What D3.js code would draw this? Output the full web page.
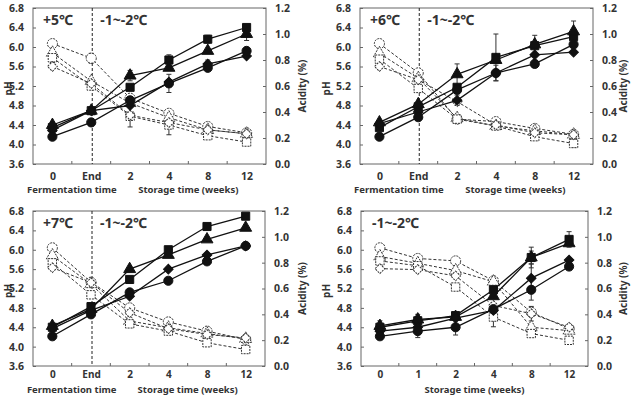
<!DOCTYPE html>
<html>
<head>
<meta charset="utf-8">
<script src="https://cdn.jsdelivr.net/npm/d3@7"></script>
<style>
  body { margin: 0; background: #fff; }
  text { font-family: "Noto Sans", "DejaVu Sans", "Noto Sans CJK KR", sans-serif; font-weight: bold; fill: #333; }
</style>
</head>
<body>
<div id="canvas"></div>
<script>
// categories
const catsFerm = ["0", "End", "2", "4", "8", "12"]
const catsStore = ["0", "1", "2", "4", "8", "12"]
const phTicks = [3.6, 4.0, 4.4, 4.8, 5.2, 5.6, 6.0, 6.4, 6.8]
const acidTicks = [0, 0.2, 0.4, 0.6, 0.8, 1.0, 1.2]

// series order: square, triangle, diamond, circle
// acidity (%) - filled symbols, solid lines
const acid5 = [
  [0.28, 0.41, 0.59, 0.80, 0.96, 1.05],
  [0.30, 0.41, 0.68, 0.74, 0.87, 1.00],
  [0.26, 0.41, 0.45, 0.63, 0.77, 0.83],
  [0.21, 0.32, 0.49, 0.62, 0.74, 0.87]
]
const acid6 = [
  [0.28, 0.44, 0.59, 0.82, 0.91, 0.98],
  [0.32, 0.46, 0.69, 0.80, 0.92, 1.02],
  [0.31, 0.40, 0.49, 0.70, 0.84, 0.86],
  [0.21, 0.36, 0.57, 0.70, 0.77, 0.92]
]
const acid7 = [
  [0.30, 0.46, 0.67, 0.90, 1.08, 1.16],
  [0.31, 0.44, 0.75, 0.86, 0.98, 1.07],
  [0.29, 0.43, 0.54, 0.75, 0.86, 0.93],
  [0.23, 0.40, 0.57, 0.66, 0.81, 0.93]
]
const acidCold = [
  [0.30, 0.35, 0.39, 0.59, 0.84, 0.98],
  [0.31, 0.36, 0.38, 0.54, 0.84, 0.95],
  [0.27, 0.30, 0.37, 0.43, 0.68, 0.82],
  [0.23, 0.27, 0.30, 0.44, 0.59, 0.77]
]

// pH - open symbols, dashed lines (circle, triangle, square, diamond)
const ph5 = [
  [6.07, 5.77, 4.95, 4.64, 4.37, 4.24],
  [5.88, 5.30, 4.85, 4.55, 4.30, 4.22],
  [5.78, 5.20, 4.58, 4.40, 4.18, 4.05],
  [5.60, 5.25, 4.60, 4.45, 4.30, 4.22]
]
const ph6 = [
  [6.07, 5.47, 4.52, 4.47, 4.33, 4.21],
  [5.87, 5.36, 4.54, 4.38, 4.28, 4.20],
  [5.75, 5.15, 4.52, 4.38, 4.16, 4.02],
  [5.60, 5.33, 4.88, 4.40, 4.24, 4.20]
]
const ph7 = [
  [6.04, 5.33, 4.80, 4.51, 4.32, 4.15],
  [5.88, 5.29, 4.53, 4.39, 4.27, 4.16],
  [5.73, 5.07, 4.47, 4.32, 4.08, 3.94],
  [5.63, 5.32, 4.70, 4.37, 4.25, 4.18]
]
const phCold = [
  [6.04, 5.82, 5.77, 5.36, 4.71, 4.37],
  [5.86, 5.72, 5.57, 5.34, 4.40, 4.33],
  [5.77, 5.67, 5.23, 4.61, 4.27, 4.13],
  [5.61, 5.59, 5.46, 4.85, 4.68, 4.40]
]

// error bars: [panel, "acid" | "ph", series, point, error]
const errBars = [
  [0, "acid", 0, 0, 0.04], [0, "acid", 0, 3, 0.04], [0, "acid", 0, 4, 0.03], [0, "acid", 1, 2, 0.04],
  [0, "acid", 1, 5, 0.05], [0, "acid", 3, 3, 0.07], [0, "acid", 2, 4, 0.03],
  [0, "ph", 2, 0, 0.1], [0, "ph", 2, 2, 0.22], [0, "ph", 2, 3, 0.2], [0, "ph", 0, 1, 0.1],
  [1, "acid", 0, 3, 0.18], [1, "acid", 1, 2, 0.08], [1, "acid", 1, 5, 0.08], [1, "acid", 0, 4, 0.08],
  [1, "acid", 2, 2, 0.04], [1, "acid", 2, 3, 0.06], [1, "ph", 2, 5, 0.08],
  [2, "ph", 2, 5, 0.04],
  [3, "acid", 0, 4, 0.08], [3, "acid", 2, 4, 0.11], [3, "acid", 3, 4, 0.08], [3, "acid", 0, 5, 0.06],
  [3, "acid", 1, 4, 0.05], [3, "acid", 3, 3, 0.04], [3, "acid", 0, 0, 0.05], [3, "acid", 3, 1, 0.05],
  [3, "acid", 3, 2, 0.06], [3, "acid", 0, 1, 0.05],
  [3, "ph", 2, 3, 0.2], [3, "ph", 3, 4, 0.15], [3, "ph", 1, 2, 0.1], [3, "ph", 2, 5, 0.05]
]

const tempLabels = [["+5℃", "-1~-2℃"], ["+6℃", "-1~-2℃"], ["+7℃", "-1~-2℃"], ["-1~-2℃"]]

const panels = [
  { cats: catsFerm, acid: acid5, ph: ph5, box: [33, 266, 8, 164], phX: 8, acX: 302, titleDy: 29, catPad: 9, catSize: "10.5px" },
  { cats: catsFerm, acid: acid6, ph: ph6, box: [360, 593, 8, 164], phX: 326, acX: 623, titleDy: 29, catPad: 9, catSize: "10.5px" },
  { cats: catsFerm, acid: acid7, ph: ph7, box: [33, 265, 211, 366], phX: 8, acX: 302, titleDy: 27, catPad: 5, catSize: "10px" },
  { cats: catsStore, acid: acidCold, ph: phCold, box: [361, 588, 211, 366], phX: 326, acX: 623, titleDy: 27, catPad: 5, catSize: "10px" }
]

const filledShapes = ["square", "triangle", "diamond", "circle"]
const openShapes = ["circle", "triangle", "square", "diamond"]

const svg = d3.select("#canvas").append("svg").attr("width", 631).attr("height", 396)

function marker(g, shape, x, y, filled) {
  let s
  if (shape == "circle") s = d3.symbol(d3.symbolCircle, filled ? 66 : 80)
  else if (shape == "square") s = d3.symbol(d3.symbolSquare, filled ? 66 : 70)
  else if (shape == "triangle") s = d3.symbol(d3.symbolTriangle, filled ? 62 : 64)
  else s = d3.symbol(d3.symbolSquare, filled ? 46 : 48)
  const rot = shape == "diamond" ? " rotate(45)" : ""
  g.append("path").attr("d", s()).attr("transform", `translate(${x},${y})${rot}`)
    .attr("fill", filled ? "#111" : "#fff")
    .attr("stroke", filled ? "#111" : "#333")
    .attr("stroke-width", 1)
    .attr("stroke-dasharray", filled ? null : "2,1")
}

panels.forEach((p, pi) => {
  const [x0, x1, y0, y1] = p.box
  const g = svg.append("g")
  const x = d3.scalePoint().domain(p.cats).range([x0, x1]).padding(0.5)
  const yP = d3.scaleLinear().domain([3.6, 6.8]).range([y1, y0])
  const yA = d3.scaleLinear().domain([0, 1.2]).range([y1, y0])

  // axes
  const left = g.append("g").attr("transform", `translate(${x0},0)`)
    .call(d3.axisLeft(yP).tickValues(phTicks).tickFormat(d3.format(".1f")).tickSizeInner(-3).tickSizeOuter(0).tickPadding(9))
  const right = g.append("g").attr("transform", `translate(${x1},0)`)
    .call(d3.axisRight(yA).tickValues(acidTicks).tickFormat(d3.format(".1f")).tickSizeInner(-3).tickSizeOuter(0).tickPadding(9))
  const bottom = g.append("g").attr("transform", `translate(0,${y1})`)
    .call(d3.axisBottom(x).tickSize(0).tickPadding(p.catPad))
  ;[left, right].forEach(a => {
    a.select(".domain").remove()
    a.selectAll("line").attr("stroke", "#666")
    a.selectAll("text").style("font-size", "10.5px").attr("fill", "#333")
  })
  bottom.select(".domain").remove()
  bottom.selectAll("text").style("font-size", p.catSize).attr("fill", "#333")

  // frame
  g.append("rect").attr("x", x0).attr("y", y0).attr("width", x1 - x0).attr("height", y1 - y0)
    .attr("fill", "none").attr("stroke", "#666").attr("stroke-width", 1)

  // boundary ticks
  p.cats.slice(0, -1).forEach(c => {
    const bx = x(c) + x.step() / 2
    g.append("line").attr("x1", bx).attr("x2", bx).attr("y1", y1).attr("y2", y1 - 3).attr("stroke", "#666")
  })

  // axis titles
  g.append("text").attr("transform", `translate(${p.phX},${yP(5.15)}) rotate(-90)`)
    .attr("text-anchor", "middle").attr("dy", "0.35em").style("font-size", "10px").text("pH")
  g.append("text").attr("transform", `translate(${p.acX},${(y0 + y1) / 2}) rotate(-90)`)
    .attr("text-anchor", "middle").attr("dy", "0.35em").style("font-size", "10px").text("Acidity (%)")

  const split = p.cats[1] == "End"
  if (split) {
    g.append("text").attr("x", (x(p.cats[0]) + x(p.cats[1])) / 2).attr("y", y1 + p.titleDy)
      .attr("text-anchor", "middle").style("font-size", "9.5px").text("Fermentation time")
    g.append("text").attr("x", (x(p.cats[2]) + x(p.cats[5])) / 2).attr("y", y1 + p.titleDy)
      .attr("text-anchor", "middle").style("font-size", "9.5px").text("Storage time (weeks)")
    // dashed vertical line at End
    g.append("line").attr("x1", x("End") + 1).attr("x2", x("End") + 1).attr("y1", y0).attr("y2", y1)
      .attr("stroke", "#222").attr("stroke-dasharray", "3,2")
    g.append("text").attr("x", x0 + 10).attr("y", y0 + 17).style("font-size", "14px").text(tempLabels[pi][0])
    g.append("text").attr("x", x("End") + 9).attr("y", y0 + 17).style("font-size", "14px").text(tempLabels[pi][1])
  } else {
    g.append("text").attr("x", (x(p.cats[0]) + x(p.cats[5])) / 2).attr("y", y1 + p.titleDy)
      .attr("text-anchor", "middle").style("font-size", "9.5px").text("Storage time (weeks)")
    g.append("text").attr("x", x0 + 11).attr("y", y0 + 17).style("font-size", "14px").text(tempLabels[pi][0])
  }

  // error bars
  errBars.filter(e => e[0] == pi).forEach(([, kind, si, ii, err]) => {
    const sc = kind == "acid" ? yA : yP
    const v = (kind == "acid" ? p.acid : p.ph)[si][ii]
    const ex = x(p.cats[ii])
    g.append("line").attr("x1", ex).attr("x2", ex).attr("y1", sc(v - err)).attr("y2", sc(v + err)).attr("stroke", "#333")
    ;[v - err, v + err].forEach(ev => {
      g.append("line").attr("x1", ex - 2.5).attr("x2", ex + 2.5).attr("y1", sc(ev)).attr("y2", sc(ev)).attr("stroke", "#333")
    })
  })

  // pH series (dashed, open)
  const linePh = d3.line().x((d, i) => x(p.cats[i])).y(d => yP(d))
  p.ph.forEach((s, si) => {
    g.append("path").attr("d", linePh(s)).attr("fill", "none").attr("stroke", "#333")
      .attr("stroke-width", 1).attr("stroke-dasharray", "3,2")
  })
  p.ph.forEach((s, si) => {
    s.forEach((v, i) => marker(g, openShapes[si], x(p.cats[i]), yP(v), false))
  })

  // acidity series (solid, filled)
  const lineAc = d3.line().x((d, i) => x(p.cats[i])).y(d => yA(d))
  p.acid.forEach((s, si) => {
    g.append("path").attr("d", lineAc(s)).attr("fill", "none").attr("stroke", "#111").attr("stroke-width", 1.3)
  })
  p.acid.forEach((s, si) => {
    s.forEach((v, i) => marker(g, filledShapes[si], x(p.cats[i]), yA(v), true))
  })
})
</script>
</body>
</html>
